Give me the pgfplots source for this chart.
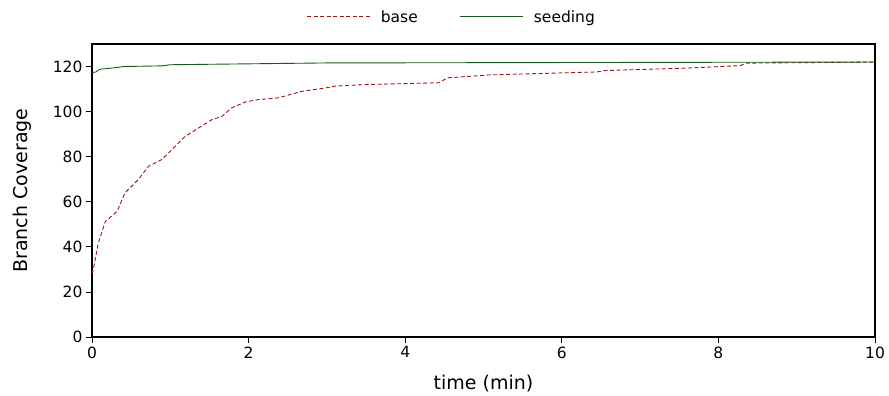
\documentclass[border=0pt]{standalone}
\usepackage{fontspec}
\setmainfont{DejaVu Sans}
\usepackage{pgfplots}
\pgfplotsset{compat=1.18}
\definecolor{basered}{RGB}{160,20,20}
\definecolor{seedgreen}{RGB}{25,90,25}
\begin{document}
\begin{tikzpicture}
\begin{axis}[
  name=ax,
  scale only axis,
  width=783pt, height=293pt,
  xmin=0, xmax=10, ymin=0, ymax=130,
  xtick={0,2,4,6,8,10}, ytick={0,20,40,60,80,100,120},
  tick align=outside, tick pos=left,
  major tick length=6pt,
  axis line style={line width=1.4pt},
  every tick/.style={black, line width=0.8pt},
  /pgf/number format/assume math mode=true,
  tick label style={font=\fontsize{15.5}{17}\selectfont},
  label style={font=\fontsize{19}{22}\selectfont},
  xlabel={time (min)}, ylabel={Branch Coverage},
  xlabel style={yshift=-10pt},
  ylabel style={yshift=15pt},
  legend columns=2,
  legend style={draw=none, at={(rel axis cs:0.274,1.092)}, anchor=west,
    font=\fontsize{15.5}{18}\selectfont, inner sep=0pt,
    /tikz/every odd column/.append style={column sep=8pt},
    /tikz/every even column/.append style={column sep=40pt}},
  legend image code/.code={\draw[#1] (0pt,0.5pt) -- (63pt,0.5pt);},
]
\addlegendimage{color=basered, draw=basered, line width=1.1pt, dash pattern=on 4pt off 2.5pt}
\addlegendentry{base}
\addlegendimage{color=seedgreen, draw=seedgreen, line width=1.1pt}
\addlegendentry{seeding}
\addplot[basered, line width=0.9pt, dash pattern=on 4pt off 2.5pt, forget plot] coordinates {
(0,28) (0.02,30.5) (0.08,41.6) (0.17,51.2) (0.32,55.7) (0.42,63.9) (0.59,69.8)
(0.72,75.7) (0.89,78.7) (1.02,83.1) (1.19,89) (1.36,92.7) (1.53,96.4) (1.66,97.9)
(1.78,101.6) (1.96,104.3) (2.12,105.3) (2.38,106.1) (2.68,109) (2.98,110.5)
(3.10,111.3) (3.49,112) (4.43,112.8) (4.54,115) (5.09,116.3) (6.45,117.6)
(6.54,118.2) (7.59,119.3) (8.28,120.4) (8.35,121.5) (10,122)
};
\addplot[seedgreen, line width=0.9pt, forget plot] coordinates {
(0,117.3) (0.05,117.6) (0.1,118.8) (0.3,119.5) (0.4,120) (0.9,120.3) (1.0,120.8)
(2.0,121.2) (3.0,121.6) (8.3,121.9) (10,122)
};
\end{axis}
\pgfresetboundingbox
\path[use as bounding box] (-92pt,-59pt) rectangle (797pt,337pt);
\end{tikzpicture}
\end{document}
